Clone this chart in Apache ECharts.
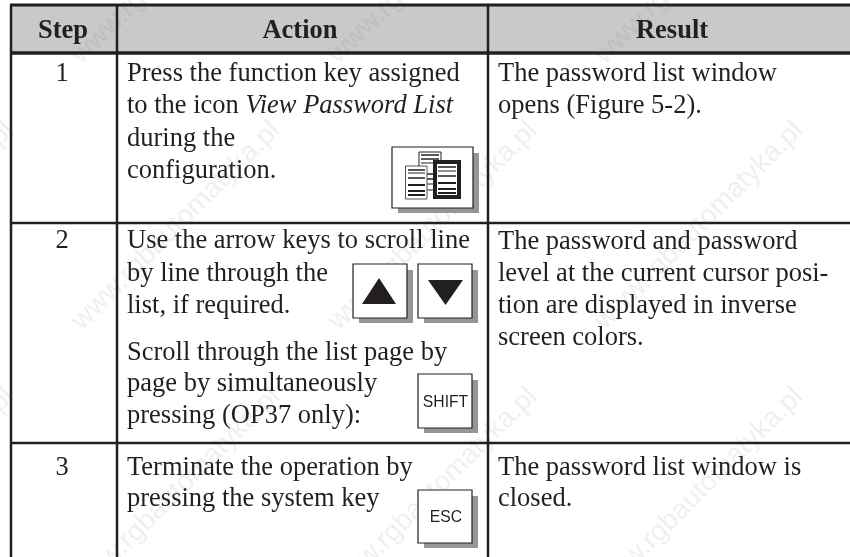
<!DOCTYPE html>
<html>
<head>
<meta charset="utf-8">
<style>html,body{margin:0;padding:0;background:#fff}#main{width:850px;height:557px}</style>
<script src="https://cdn.jsdelivr.net/npm/echarts@6/dist/echarts.min.js"></script>
</head>
<body>
<div id="main"></div>
<script>
// table content
const headers = ['Step', 'Action', 'Result'];
const steps = ['1', '2', '3'];
const actionLines = [
  'Press the function key assigned',
  'to the icon {i|View Password List}',
  'during the',
  'configuration.',
  'Use the arrow keys to scroll line',
  'by line through the',
  'list, if required.',
  'Scroll through the list page by',
  'page by simultaneously',
  'pressing (OP37 only):',
  'Terminate the operation by',
  'pressing the system key'
];
const resultLines = [
  'The password list window',
  'opens (Figure 5-2).',
  'The password and password',
  'level at the current cursor posi-',
  'tion are displayed in inverse',
  'screen colors.',
  'The password list window is',
  'closed.'
];
const keyLabels = ['SHIFT', 'ESC'];
const watermark = 'www.rgbautomatyka.pl';

// layout, in page pixels
const colEdges = [11, 117, 488];
const rowEdges = [5, 53, 223, 443];
const headerX = [63, 300, 672];
const stepY = [80, 247, 474];
const actionY = [80, 112, 145, 177, 247, 280, 312, 359, 390, 422, 474, 505];
const resultY = [80, 112, 248, 280, 312, 344, 474, 505];
const wmCenters = [
  [176, -40], [433, -40], [699, -40],
  [-90, 226], [176, 226], [433, 226], [699, 226],
  [-90, 492], [176, 492], [433, 492], [699, 492]
];

const INK = '#231f20';
const SERIF = '"Liberation Serif", "Times New Roman", serif';
const TEXT_SIZE = 26.5;
const BASE_SHIFT = 6; // baseline to the middle of the text box

var myChart = echarts.init(document.getElementById('main'), null, { renderer: 'canvas' });

function line(api, x1, y1, x2, y2, width, color) {
  const a = api.coord([x1, y1]);
  const b = api.coord([x2, y2]);
  return { type: 'line', shape: { x1: a[0], y1: a[1], x2: b[0], y2: b[1] }, style: { stroke: color || INK, lineWidth: width } };
}
function rect(api, x1, y1, x2, y2, style) {
  const a = api.coord([x1, y1]);
  const b = api.coord([x2, y2]);
  return { type: 'rect', shape: { x: a[0], y: a[1], width: b[0] - a[0], height: b[1] - a[1] }, style: style };
}
function text(api, x, y, str, align, size, extra) {
  const a = api.coord([x, y - BASE_SHIFT]);
  return {
    type: 'text', x: a[0], y: a[1],
    style: Object.assign({
      text: str, align: align, verticalAlign: 'middle', fill: INK,
      font: size + 'px ' + SERIF,
      rich: { i: { font: 'italic ' + size + 'px ' + SERIF, fill: INK } }
    }, extra || {})
  };
}
// key cap with its drop shadow
function keyBox(api, x1, y1, x2, y2) {
  return [
    rect(api, x1 + 6, y1 + 6, x2 + 6, y2 + 5, { fill: '#949698' }),
    rect(api, x1, y1, x2, y2, { fill: '#fff', stroke: INK, lineWidth: 1.2 })
  ];
}
function docLines(api, x1, x2, ys, widths) {
  return ys.map((y, i) => line(api, x1, y, x2, y, widths[i], INK));
}

function renderWatermark(params, api) {
  const children = wmCenters.map(c => {
    const a = api.coord(c);
    return {
      type: 'text', x: a[0], y: a[1], rotation: Math.PI / 4,
      style: { text: watermark, align: 'center', verticalAlign: 'middle',
        font: '28px "Liberation Sans", Arial, sans-serif', fill: 'rgba(130,110,100,0.11)' }
    };
  });
  return { type: 'group', children: children };
}

function renderGrid(params, api) {
  const right = 850, bottom = 557;
  return {
    type: 'group',
    children: [
      line(api, colEdges[0] - 1, rowEdges[0], right, rowEdges[0], 3),
      line(api, colEdges[0] - 1, rowEdges[1], right, rowEdges[1], 3.5),
      line(api, colEdges[0], rowEdges[2], right, rowEdges[2], 2.5),
      line(api, colEdges[0], rowEdges[3], right, rowEdges[3], 2.5)
    ].concat(colEdges.map(x => line(api, x, rowEdges[0], x, bottom, 2.5)))
  };
}

function renderText(params, api) {
  const children = [];
  headers.forEach((h, i) => children.push(text(api, headerX[i], 37, h, 'center', TEXT_SIZE, { font: 'bold ' + TEXT_SIZE + 'px ' + SERIF })));
  steps.forEach((s, i) => children.push(text(api, 62, stepY[i], s, 'center', TEXT_SIZE)));
  actionLines.forEach((s, i) => children.push(text(api, 127, actionY[i], s, 'left', TEXT_SIZE)));
  resultLines.forEach((s, i) => children.push(text(api, 498, resultY[i], s, 'left', TEXT_SIZE)));
  return { type: 'group', children: children };
}

function renderIcons(params, api) {
  let c = [];
  // view password list icon
  c = c.concat(keyBox(api, 392, 147, 473, 208));
  c.push(rect(api, 419, 152, 441, 190, { fill: '#fff', stroke: INK, lineWidth: 1 }));
  c = c.concat(docLines(api, 421, 439, [155, 159, 163, 174, 179, 184], [1.5, 1.5, 1, 1.5, 1.5, 1]));
  c.push(rect(api, 405.5, 166, 427, 199, { fill: '#fff', stroke: '#555', lineWidth: 1 }));
  c = c.concat(docLines(api, 408, 425, [170, 173, 178, 185, 191, 195], [1.5, 1, 1.5, 2, 2, 2]));
  c.push(rect(api, 435, 162, 459, 197, { fill: '#fff', stroke: INK, lineWidth: 4 }));
  c = c.concat(docLines(api, 438, 456, [167, 171, 176, 183, 189, 193], [1.5, 1, 1.5, 2, 2, 2]));
  // arrow keys
  c = c.concat(keyBox(api, 353, 264, 407, 318));
  c = c.concat(keyBox(api, 418, 264, 472, 318));
  const up = [[362, 304], [396, 304], [379, 278]].map(p => api.coord(p));
  const dn = [[428, 280], [463, 280], [445.5, 305]].map(p => api.coord(p));
  c.push({ type: 'polygon', shape: { points: up }, style: { fill: INK } });
  c.push({ type: 'polygon', shape: { points: dn }, style: { fill: INK } });
  // text keys
  c = c.concat(keyBox(api, 418, 374, 472, 428));
  c = c.concat(keyBox(api, 418, 490, 472, 543));
  const cap = '15.7px "Liberation Sans", Arial, sans-serif';
  c.push(text(api, 445.5, 408.5, keyLabels[0], 'center', 15.7, { font: cap }));
  c.push(text(api, 446, 524, keyLabels[1], 'center', 15.7, { font: cap }));
  return { type: 'group', children: c };
}

function renderHeader(params, api) {
  return rect(api, 11, 5, 850, 53, { fill: '#c8c9cb' });
}

var option = {
  animation: false,
  backgroundColor: '#fff',
  tooltip: { show: false },
  grid: { left: 0, right: 0, top: 0, bottom: 0 },
  xAxis: { type: 'value', min: 0, max: 850, show: false },
  yAxis: { type: 'value', min: 0, max: 557, inverse: true, show: false },
  series: [
    { type: 'custom', silent: true, clip: false, data: [0], z: 1, renderItem: renderHeader },
    { type: 'custom', silent: true, clip: false, data: [0], z: 2, renderItem: renderWatermark },
    { type: 'custom', silent: true, clip: false, data: [0], z: 3, renderItem: renderGrid },
    { type: 'custom', silent: true, clip: false, data: [0], z: 4, renderItem: renderIcons },
    { type: 'custom', silent: true, clip: false, data: [0], z: 5, renderItem: renderText }
  ]
};
option && myChart.setOption(option);
</script>
</body>
</html>
